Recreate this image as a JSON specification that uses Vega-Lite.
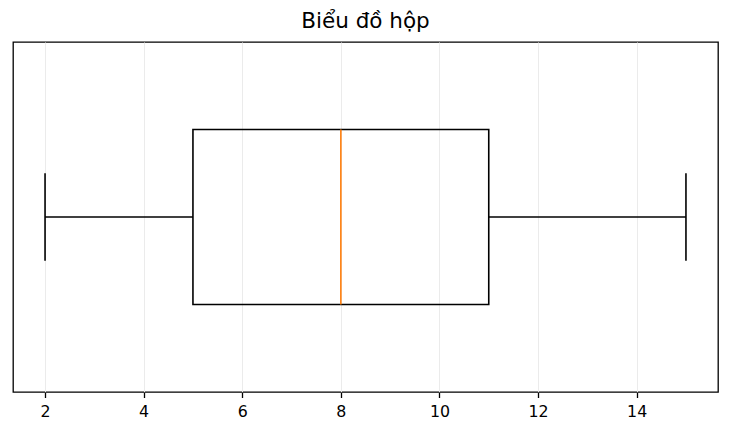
{
  "$schema": "https://vega.github.io/schema/vega-lite/v6.json",
  "width": 705,
  "height": 350,
  "autosize": "none",
  "padding": {"left": 13, "top": 42, "right": 13, "bottom": 44},
  "title": {"text": "Biểu đồ hộp", "offset": 6, "baseline": "bottom", "dy": 18},
  "data": {
    "values": [
      {"min": 2, "q1": 5, "median": 8, "q3": 11, "max": 15}
    ]
  },
  "encoding": {
    "y": {"datum": 1, "type": "quantitative", "scale": {"domain": [0.5, 1.5]}, "axis": null}
  },
  "layer": [
    {
      "mark": {"type": "rule", "color": "black", "strokeWidth": 1.6},
      "encoding": {
        "x": {
          "field": "min",
          "type": "quantitative",
          "scale": {"domain": [1.35, 15.65], "nice": false, "zero": false},
          "axis": {"values": [2, 4, 6, 8, 10, 12, 14], "title": null, "grid": true}
        },
        "x2": {"field": "q1"}
      }
    },
    {
      "mark": {"type": "rule", "color": "black", "strokeWidth": 1.6},
      "encoding": {"x": {"field": "q3", "type": "quantitative"}, "x2": {"field": "max"}}
    },
    {
      "mark": {"type": "rule", "color": "black", "strokeWidth": 1.6},
      "encoding": {
        "x": {"field": "min", "type": "quantitative"},
        "y": {"datum": 0.875, "type": "quantitative"},
        "y2": {"datum": 1.125}
      }
    },
    {
      "mark": {"type": "rule", "color": "black", "strokeWidth": 1.6},
      "encoding": {
        "x": {"field": "max", "type": "quantitative"},
        "y": {"datum": 0.875, "type": "quantitative"},
        "y2": {"datum": 1.125}
      }
    },
    {
      "mark": {"type": "rect", "fill": null, "stroke": "black", "strokeWidth": 1.6},
      "encoding": {
        "x": {"field": "q1", "type": "quantitative"},
        "x2": {"field": "q3"},
        "y": {"datum": 0.75, "type": "quantitative"},
        "y2": {"datum": 1.25}
      }
    },
    {
      "mark": {"type": "rule", "color": "#ff7f0e", "strokeWidth": 1.6},
      "encoding": {
        "x": {"field": "median", "type": "quantitative"},
        "y": {"datum": 0.75, "type": "quantitative"},
        "y2": {"datum": 1.25}
      }
    }
  ],
  "config": {
    "font": "DejaVu Sans",
    "view": {"stroke": "black", "strokeWidth": 1.3},
    "axis": {
      "domain": false,
      "gridColor": "#ebebeb",
      "gridWidth": 1,
      "tickColor": "black",
      "tickSize": 5.5,
      "tickWidth": 1.3,
      "labelPadding": 7,
      "labelFont": "DejaVu Sans",
      "labelFontSize": 15.8,
      "labelColor": "black"
    },
    "title": {"font": "DejaVu Sans", "fontSize": 21.5, "fontWeight": "normal", "color": "black", "anchor": "middle"}
  }
}
